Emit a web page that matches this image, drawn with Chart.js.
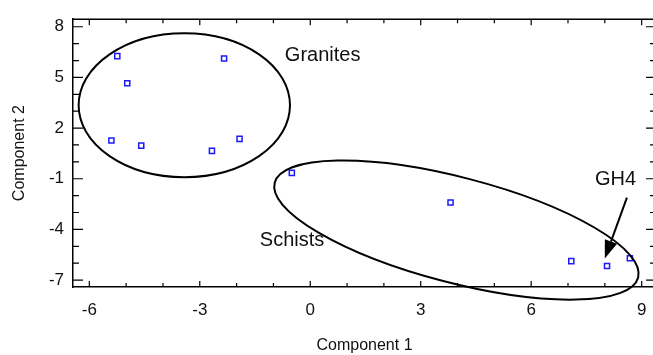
<!DOCTYPE html>
<html><head><meta charset="utf-8">
<script src="https://cdn.jsdelivr.net/npm/chart.js@4.4.1/dist/chart.umd.min.js"></script>
<style>html,body{margin:0;padding:0;overflow:hidden;background:#fff}#wrap{width:662px;height:355px;position:relative}</style>
</head><body><div id="wrap"><canvas id="c"></canvas></div>
<script>
// ---- data ----
const component1 = [-5.24, -4.97, -2.34, -5.40, -4.59, -2.67, -1.92, -0.50, 3.81, 7.09, 8.06, 8.68];
const component2 = [ 6.26,  4.65,  6.12,  1.26,  0.96,  0.65,  1.36, -0.65, -2.41, -5.88, -6.17, -5.71];
const xTickValues = [-6, -3, 0, 3, 6, 9];
const yTickValues = [-7, -4, -1, 2, 5, 8];
const xTitle = 'Component 1';
const yTitle = 'Component 2';
const groupNames = ['Granites', 'Schists'];
const calloutName = 'GH4';

// ---- annotation geometry (data coordinates) ----
const annot = {
  groupLabelPos: [[-0.69, 6.32], [-1.37, -4.68]],
  ellipses: [
    {cx: -3.42, cy: 3.35, rx: 2.87, ry: 4.26, tilt: 0},
    {cx: 3.97, cy: -4.04, rx: 5.1, ry: 3.12, tilt: 14.6}
  ],
  calloutPos: [7.73, -1.02],
  arrowFrom: [8.60, -2.12],
  arrowTo: [8.00, -5.72]
};

const FONT = '"Liberation Sans", Arial, Helvetica, sans-serif';

const overlay = {
  id: 'overlay',
  afterDraw(chart) {
    const {ctx, chartArea: a, scales: {x, y}} = chart;
    const ux = Math.abs(x.getPixelForValue(1) - x.getPixelForValue(0));
    const uy = Math.abs(y.getPixelForValue(0) - y.getPixelForValue(1));
    ctx.save();
    ctx.strokeStyle = '#000';
    ctx.lineWidth = 1.5;
    ctx.beginPath();
    ctx.moveTo(a.left, a.top); ctx.lineTo(a.right, a.top); ctx.lineTo(a.right, a.bottom);
    ctx.stroke();
    // inward ticks
    ctx.lineWidth = 1.2;
    ctx.beginPath();
    for (let v = Math.ceil(x.min); v <= x.max; v++) {
      const p = x.getPixelForValue(v);
      const L = xTickValues.includes(v) ? 6 : 4;
      ctx.moveTo(p, a.bottom); ctx.lineTo(p, a.bottom - L);
      ctx.moveTo(p, a.top); ctx.lineTo(p, a.top + L);
    }
    for (let v = Math.ceil(y.min); v <= y.max; v++) {
      const p = y.getPixelForValue(v);
      const L = yTickValues.includes(v) ? 10 : 6;
      ctx.moveTo(a.left, p); ctx.lineTo(a.left + L, p);
      ctx.moveTo(a.right, p); ctx.lineTo(a.right - L, p);
    }
    ctx.stroke();
    // ellipses
    ctx.lineWidth = 2;
    annot.ellipses.forEach(e => {
      ctx.beginPath();
      ctx.ellipse(x.getPixelForValue(e.cx), y.getPixelForValue(e.cy), e.rx * ux, e.ry * uy, e.tilt * Math.PI / 180, 0, Math.PI * 2);
      ctx.stroke();
    });
    // labels
    ctx.fillStyle = '#111';
    ctx.font = '20px ' + FONT;
    ctx.textBaseline = 'middle';
    ctx.textAlign = 'left';
    groupNames.forEach((n, i) => {
      const [lx, ly] = annot.groupLabelPos[i];
      ctx.fillText(n, x.getPixelForValue(lx), y.getPixelForValue(ly));
    });
    ctx.fillText(calloutName, x.getPixelForValue(annot.calloutPos[0]), y.getPixelForValue(annot.calloutPos[1]));
    // arrow
    const x0 = x.getPixelForValue(annot.arrowFrom[0]), y0 = y.getPixelForValue(annot.arrowFrom[1]);
    const x1 = x.getPixelForValue(annot.arrowTo[0]), y1 = y.getPixelForValue(annot.arrowTo[1]);
    const ang = Math.atan2(y1 - y0, x1 - x0);
    const hl = 18, hw = 6.5;
    const bx = x1 - hl * Math.cos(ang), by = y1 - hl * Math.sin(ang);
    ctx.lineWidth = 2;
    ctx.beginPath(); ctx.moveTo(x0, y0); ctx.lineTo(bx, by); ctx.stroke();
    ctx.fillStyle = '#000';
    ctx.beginPath();
    ctx.moveTo(x1, y1);
    ctx.lineTo(bx + hw * Math.sin(ang), by - hw * Math.cos(ang));
    ctx.lineTo(bx - hw * Math.sin(ang), by + hw * Math.cos(ang));
    ctx.closePath(); ctx.fill();
    ctx.restore();
  }
};

new Chart(document.getElementById('c'), {
  type: 'scatter',
  data: {
    datasets: [{
      data: component1.map((v, i) => ({x: v, y: component2[i]})),
      pointStyle: 'rect',
      pointRadius: 3.6,
      borderColor: '#1a1aff',
      backgroundColor: 'rgba(255,255,255,0)',
      borderWidth: 1.5
    }]
  },
  options: {
    responsive: true,
    maintainAspectRatio: false,
    animation: false,
    events: [],
    layout: {padding: {top: 14, right: 6, bottom: 0, left: 0}},
    plugins: {legend: {display: false}, tooltip: {enabled: false}},
    scales: {
      x: {
        type: 'linear', min: -6.443, max: 9.39,
        afterBuildTicks: s => { s.ticks = xTickValues.map(v => ({value: v})); },
        afterFit: s => { s.height = 68; },
        grid: {display: false, drawTicks: false},
        border: {display: true, color: '#000', width: 1.5},
        ticks: {color: '#111', font: {family: FONT, size: 17}, padding: 13, maxRotation: 0, autoSkip: false},
        title: {display: true, text: xTitle, color: '#111', font: {family: FONT, size: 16}, padding: {top: 0, bottom: 0}}
      },
      y: {
        type: 'linear', min: -7.41, max: 8.447,
        afterBuildTicks: s => { s.ticks = yTickValues.map(v => ({value: v})); },
        afterFit: s => { s.width = 73; },
        grid: {display: false, drawTicks: false},
        border: {display: true, color: '#000', width: 1.5},
        ticks: {color: '#111', font: {family: FONT, size: 17}, padding: 9, autoSkip: false},
        title: {display: true, text: yTitle, color: '#111', font: {family: FONT, size: 16}, padding: {top: 10, bottom: 0}}
      }
    }
  },
  plugins: [overlay]
});
</script>
</body></html>
